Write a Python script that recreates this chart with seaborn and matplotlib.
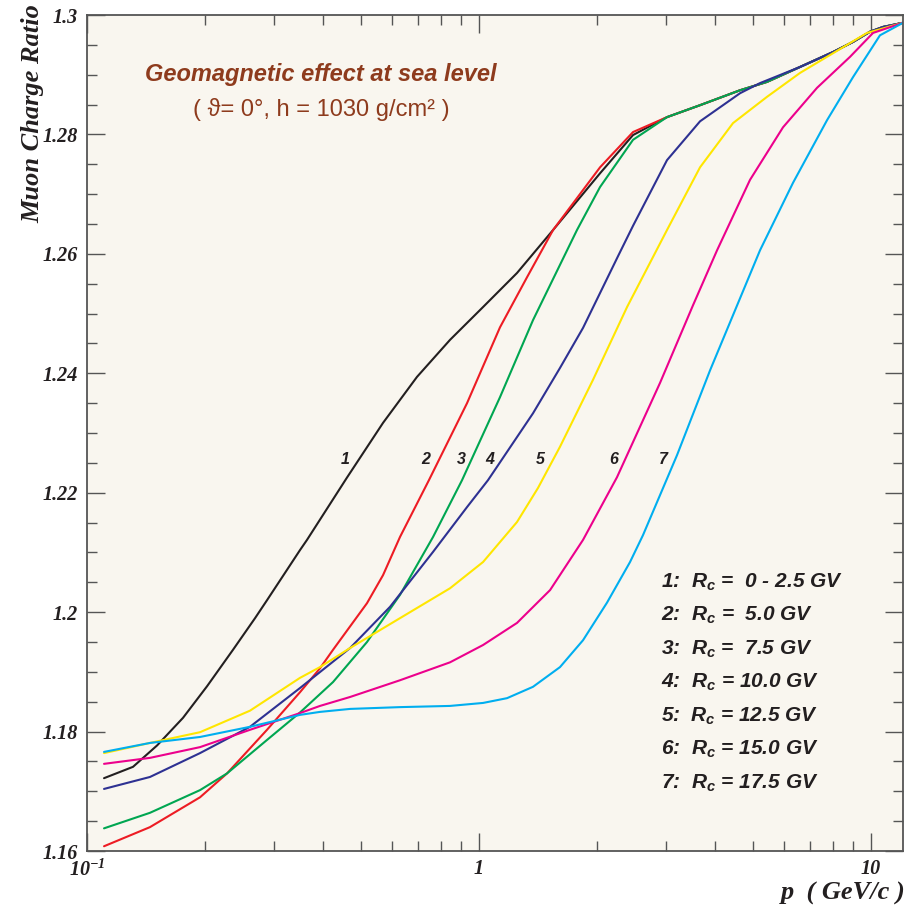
import numpy as np
import pandas as pd
import seaborn as sns
import matplotlib
matplotlib.use('Agg')
from matplotlib import pyplot as plt
import matplotlib.ticker as mtick

# curve ids and cutoff rigidities (legend)
curve_ids = ['1', '2', '3', '4', '5', '6', '7']
rc_values = [' 0 - 2.5', ' 5.0', ' 7.5', '10.0', '12.5', '15.0', '17.5']
colors = ['#231f20', '#ed1c24', '#00a651', '#2e3192', '#ffe600', '#ec008c', '#00aeef']

# muon momentum p (GeV/c) and charge ratio
p_1 = [0.1105, 0.131, 0.151, 0.1757, 0.2024, 0.2357, 0.2683, 0.2878, 0.3494, 0.364, 0.46,
       0.569, 0.6946, 0.8433, 1.024, 1.25, 1.545, 2.036, 2.471, 3.017, 3.663, 4.633, 5.429,
       6.59, 8.0, 9.0, 9.94, 10.73, 12.07]
ratio_1 = [1.1722, 1.1741, 1.1777, 1.1823, 1.1876, 1.1937, 1.1990, 1.2020, 1.2104, 1.2121, 1.2225,
           1.2317, 1.2394, 1.2456, 1.2511, 1.2568, 1.264, 1.2735, 1.2799, 1.2829, 1.2849, 1.2874,
           1.2888, 1.2913, 1.2938, 1.2955, 1.2972, 1.298, 1.2987]

p_2 = [0.1105, 0.1447, 0.1942, 0.2276, 0.2878, 0.3494, 0.3929, 0.4242, 0.5178, 0.569, 0.6287,
       0.745, 0.932, 1.131, 1.326, 1.545, 2.036, 2.471, 3.017, 3.663, 4.633, 5.429, 6.59, 8.0,
       9.0, 9.94, 10.73, 12.07]
ratio_2 = [1.1608, 1.164, 1.169, 1.173, 1.1803, 1.1866, 1.1906, 1.1937, 1.2015, 1.2062, 1.2126,
           1.2221, 1.235, 1.2477, 1.2561, 1.264, 1.2745, 1.2804, 1.2829, 1.2849, 1.2874, 1.2888,
           1.2913, 1.2938, 1.2955, 1.2972, 1.298, 1.2987]

p_3 = [0.1105, 0.1447, 0.1942, 0.2276, 0.2878, 0.3494, 0.4242, 0.5178, 0.6287, 0.7634, 0.905,
       1.131, 1.373, 1.778, 2.036, 2.471, 3.017, 3.663, 4.633, 5.429, 6.59, 8.0, 9.0, 9.94,
       10.73, 12.07]
ratio_3 = [1.1638, 1.1664, 1.1702, 1.173, 1.1786, 1.1832, 1.1883, 1.195, 1.2029, 1.2126, 1.2221,
           1.236, 1.2489, 1.264, 1.2712, 1.2791, 1.2829, 1.2849, 1.2874, 1.2888, 1.2913, 1.2938,
           1.2955, 1.2972, 1.298, 1.2987]

p_4 = [0.1105, 0.1447, 0.1942, 0.2604, 0.3494, 0.469, 0.593, 0.7634, 0.932, 1.054, 1.373,
       1.609, 1.842, 2.262, 2.471, 3.017, 3.663, 4.633, 5.21, 6.59, 8.0, 9.0, 9.94, 10.73, 12.07]
ratio_4 = [1.1704, 1.1724, 1.1764, 1.1808, 1.1873, 1.194, 1.2009, 1.2101, 1.2176, 1.2221, 1.2333,
           1.2409, 1.2476, 1.2596, 1.2647, 1.2757, 1.2822, 1.2869, 1.2886, 1.2913, 1.2938, 1.2955,
           1.2972, 1.298, 1.2987]

p_5 = [0.1105, 0.1447, 0.1942, 0.2604, 0.3494, 0.3929, 0.469, 0.6287, 0.8433, 1.024, 1.25,
       1.414, 1.609, 1.953, 2.386, 3.017, 3.663, 4.446, 5.429, 6.59, 8.0, 9.768, 12.07]
ratio_5 = [1.1764, 1.1781, 1.1799, 1.1835, 1.189, 1.1908, 1.194, 1.199, 1.204, 1.2084, 1.2151,
           1.2208, 1.2277, 1.2389, 1.2511, 1.264, 1.2745, 1.2819, 1.2863, 1.2903, 1.2936, 1.297,
           1.2987]

p_6 = [0.1105, 0.1447, 0.1942, 0.2604, 0.3494, 0.3929, 0.469, 0.6287, 0.8433, 1.024, 1.25,
       1.518, 1.842, 2.249, 2.386, 2.896, 3.515, 4.048, 4.913, 5.964, 7.281, 8.841, 10.12, 12.07]
ratio_6 = [1.1746, 1.1756, 1.1774, 1.1803, 1.1831, 1.1843, 1.1858, 1.1886, 1.1916, 1.1945, 1.1982,
           1.2037, 1.2121, 1.2226, 1.2263, 1.2384, 1.2514, 1.2606, 1.2724, 1.2812, 1.2878, 1.2930,
           1.2970, 1.2987]

p_7 = [0.1105, 0.1447, 0.1942, 0.2604, 0.3494, 0.3929, 0.469, 0.6287, 0.8433, 1.024, 1.179,
       1.373, 1.609, 1.842, 2.121, 2.428, 2.62, 3.2, 3.885, 5.21, 6.324, 7.725, 8.997, 10.54, 12.07]
ratio_7 = [1.1766, 1.1781, 1.1791, 1.1808, 1.1828, 1.1833, 1.1838, 1.1841, 1.1843, 1.1848, 1.1856,
           1.1875, 1.1908, 1.1953, 1.2016, 1.2084, 1.2129, 1.2263, 1.2405, 1.2606, 1.2719, 1.2824,
           1.2896, 1.2966, 1.2987]

x_ticks = [0.1, 1, 10]
x_ticklabels = [r'$10^{-1}$', '1', '10']
y_ticks = [1.16, 1.18, 1.2, 1.22, 1.24, 1.26, 1.28, 1.3]
y_ticklabels = ['1.16', '1.18', '1.2', '1.22', '1.24', '1.26', '1.28', '1.3']

# where the curve numbers sit
label_p = [0.455, 0.733, 0.899, 1.066, 1.432, 2.208, 2.944]
label_y = 1.2255

sns.set_style('ticks')
plt.rcParams['mathtext.fontset'] = 'custom'
plt.rcParams['mathtext.rm'] = 'Liberation Serif:bold:italic'
plt.rcParams['mathtext.it'] = 'Liberation Sans:bold:italic'
plt.rcParams['mathtext.bf'] = 'Liberation Sans:bold'

p_all = [p_1, p_2, p_3, p_4, p_5, p_6, p_7]
ratio_all = [ratio_1, ratio_2, ratio_3, ratio_4, ratio_5, ratio_6, ratio_7]
frames = []
for cid, p, r in zip(curve_ids, p_all, ratio_all):
    frames.append(pd.DataFrame({'p': p, 'ratio': r, 'curve': cid}))
data = pd.concat(frames, ignore_index=True)

fig = plt.figure(figsize=(9.21, 9.10), dpi=100)
ax = fig.add_axes([0.0945, 0.0648, 0.886, 0.9187])
ax.set_facecolor('#f9f6ef')

sns.lineplot(data=data, x='p', y='ratio', hue='curve', palette=dict(zip(curve_ids, colors)),
             linewidth=1.5, legend=False, errorbar=None, sort=False, ax=ax)

ax.set_xscale('log')
ax.set_xlim(0.1, 12.07)
ax.set_ylim(1.16, 1.3)

ax.set_xticks(x_ticks, labels=x_ticklabels)
ax.xaxis.set_minor_locator(mtick.LogLocator(base=10, subs=np.arange(2, 10)))
ax.xaxis.set_minor_formatter(mtick.NullFormatter())
ax.set_yticks(y_ticks, labels=y_ticklabels)
ax.yaxis.set_minor_locator(mtick.MultipleLocator(0.005))

for lbl in ax.get_xticklabels() + ax.get_yticklabels():
    lbl.set_fontfamily('Liberation Serif')
    lbl.set_fontweight('bold')
    lbl.set_fontstyle('italic')
    lbl.set_fontsize(14.5)
    lbl.set_color('#231f20')

ax.tick_params(which='both', direction='in', top=True, right=True, color='#555555', width=1.0)
ax.tick_params(which='major', length=13)
ax.tick_params(which='minor', length=7)
ax.tick_params(axis='y', which='major', pad=6.5)
ax.tick_params(axis='x', which='major', pad=6)
for s in ax.spines.values():
    s.set_color('#555555')
    s.set_linewidth(1.3)

ax.set_ylabel('Muon Charge Ratio', fontsize=19, fontfamily='Liberation Serif',
              fontweight='bold', fontstyle='italic', loc='top', color='#231f20')
ax.yaxis.set_label_coords(-0.052, 1.013)
ax.set_xlabel('p  ( GeV/c )', fontsize=19, fontfamily='Liberation Serif',
              fontweight='bold', fontstyle='italic', loc='right', color='#231f20')
ax.xaxis.set_label_coords(1.003, -0.037)

# curve numbers
for cid, lp in zip(curve_ids, label_p):
    ax.text(lp, label_y, cid, ha='center', va='center', fontsize=11.5,
            family='Liberation Sans', weight='bold', style='italic', color='#231f20')

# legend block
for i, (cid, rc) in enumerate(zip(curve_ids, rc_values)):
    ax.text(0.7034, 0.3218 - i * 0.0401, f'{cid}:  $R_c$ = {rc} GV', transform=ax.transAxes,
            ha='left', va='center', fontsize=15, family='Liberation Sans', weight='bold',
            style='italic', color='#231f20')

ax.text(0.2868, 0.9294, 'Geomagnetic effect at sea level', transform=ax.transAxes,
        ha='center', va='center', fontsize=17, family='Liberation Sans', weight='bold',
        style='italic', color='#8e3b1d')
ax.text(0.2868, 0.8864, '( ϑ= 0°, h = 1030 g/cm² )', transform=ax.transAxes,
        ha='center', va='center', fontsize=17, family=['Liberation Sans', 'DejaVu Sans'],
        color='#8e3b1d')

fig.savefig('out.png', dpi=100)
